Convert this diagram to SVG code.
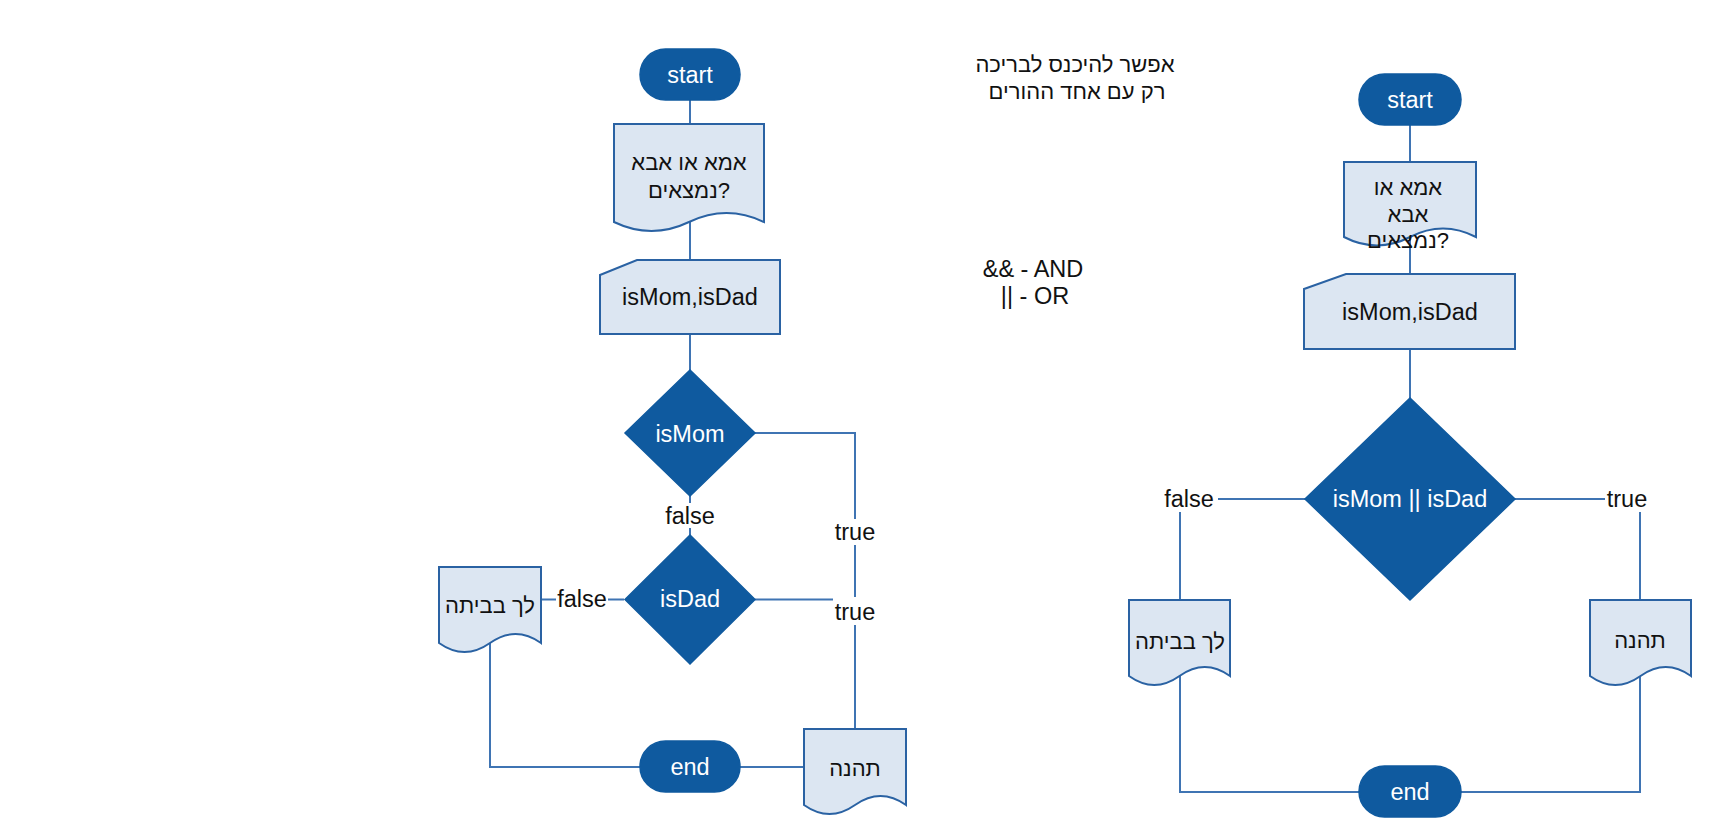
<svg xmlns="http://www.w3.org/2000/svg" width="1710" height="837" viewBox="0 0 1710 837">
<style>
.bg{fill:#ffffff}
.conn{fill:none;stroke:#3f74b3;stroke-width:2}
.dark{fill:#0f5a9f;stroke:#0f5a9f;stroke-width:1.5}
.light{fill:#dce6f2;stroke:#2a62a3;stroke-width:2}
text{font-family:"Liberation Sans",Arial,sans-serif;font-size:23.5px;text-anchor:middle;dominant-baseline:central}
.he{font-size:22px}
.w{fill:#ffffff}
.k{fill:#111111}
.lblbg{fill:#ffffff}
</style>
<rect class="bg" x="0" y="0" width="1710" height="837"/>

<g id="connectors">
  <path class="conn" d="M690,100 V124"/>
  <path class="conn" d="M690,222 V260"/>
  <path class="conn" d="M690,334 V370"/>
  <path class="conn" d="M690,496 V535"/>
  <path class="conn" d="M624,599.5 H541"/>
  <path class="conn" d="M755,433 H855 V729"/>
  <path class="conn" d="M755,599.5 H855 V729"/>
  <path class="conn" d="M490,643 V767 H640"/>
  <path class="conn" d="M804,767 H740"/>

  <path class="conn" d="M1410,125 V162"/>
  <path class="conn" d="M1410,237 V274"/>
  <path class="conn" d="M1410,349 V398"/>
  <path class="conn" d="M1305,499 H1180 V600"/>
  <path class="conn" d="M1515,499 H1640 V600"/>
  <path class="conn" d="M1180,676 V792 H1359"/>
  <path class="conn" d="M1640,676 V792 H1461"/>

  <g id="labels">
    <rect class="lblbg" x="666" y="503" width="48" height="25"/>
    <text class="k" x="690" y="516">false</text>
    <rect class="lblbg" x="556" y="587" width="52" height="25"/>
    <text class="k" x="582" y="599">false</text>
    <rect class="lblbg" x="833" y="519" width="44" height="26"/>
    <text class="k" x="855" y="532">true</text>
    <rect class="lblbg" x="833" y="597" width="44" height="28"/>
    <text class="k" x="855" y="612">true</text>
    <rect class="lblbg" x="1161" y="486" width="57" height="26"/>
    <text class="k" x="1189" y="499">false</text>
    <rect class="lblbg" x="1605" y="486" width="44" height="26"/>
    <text class="k" x="1627" y="499">true</text>
  </g>
</g>

<g id="note1">
  <text class="k he" x="1075" y="64">אפשר להיכנס לבריכה</text>
  <text class="k he" x="1077" y="91">רק עם אחד ההורים</text>
</g>
<g id="note2">
  <text class="k" x="1033" y="269">&amp;&amp; - AND</text>
  <text class="k" x="1035" y="296">|| - OR</text>
</g>

<g id="L-start">
  <rect class="dark" x="640" y="49" width="100" height="51" rx="25.5"/>
  <text class="w" x="690" y="75">start</text>
</g>
<g id="L-question">
  <path class="light" d="M614,124 H764 V222 Q726.5,204 689,222 Q651.5,240 614,222 Z"/>
  <text class="k he" x="689" y="162">אמא או אבא</text>
  <text class="k he" x="689" y="190">נמצאים?</text>
</g>
<g id="L-input">
  <path class="light" d="M600,275 L637,260 H780 V334 H600 Z"/>
  <text class="k" x="690" y="297">isMom,isDad</text>
</g>
<g id="L-isMom">
  <path class="dark" d="M690,370 L755,433 L690,496 L625,433 Z"/>
  <text class="w" x="690" y="434">isMom</text>
</g>
<g id="L-isDad">
  <path class="dark" d="M690,535 L755,599.5 L690,664 L625,599.5 Z"/>
  <text class="w" x="690" y="599">isDad</text>
</g>
<g id="L-home">
  <path class="light" d="M439,567 H541 V643 Q515.5,625 490,643 Q464.5,661 439,643 Z"/>
  <text class="k he" x="490" y="605">לך בביתה</text>
</g>
<g id="L-enjoy">
  <path class="light" d="M804,729 H906 V805 Q880.5,787 855,805 Q829.5,823 804,805 Z"/>
  <text class="k he" x="855" y="768">תהנה</text>
</g>
<g id="L-end">
  <rect class="dark" x="640" y="741" width="100" height="51" rx="25.5"/>
  <text class="w" x="690" y="767">end</text>
</g>

<g id="R-start">
  <rect class="dark" x="1359" y="74" width="102" height="51" rx="25.5"/>
  <text class="w" x="1410" y="100">start</text>
</g>
<g id="R-question">
  <path class="light" d="M1344,162 H1476 V237 Q1443,220 1410,237 Q1377,254 1344,237 Z"/>
  <text class="k he" x="1408" y="187">אמא או</text>
  <text class="k he" x="1408" y="214">אבא</text>
  <text class="k he" x="1408" y="240">נמצאים?</text>
</g>
<g id="R-input">
  <path class="light" d="M1304,289 L1346,274 H1515 V349 H1304 Z"/>
  <text class="k" x="1410" y="312">isMom,isDad</text>
</g>
<g id="R-cond">
  <path class="dark" d="M1410,398 L1515,499 L1410,600 L1305,499 Z"/>
  <text class="w" x="1410" y="499">isMom || isDad</text>
</g>
<g id="R-home">
  <path class="light" d="M1129,600 H1230 V676 Q1204.75,658 1179.5,676 Q1154.25,694 1129,676 Z"/>
  <text class="k he" x="1180" y="641">לך בביתה</text>
</g>
<g id="R-enjoy">
  <path class="light" d="M1590,600 H1691 V676 Q1665.75,658 1640.5,676 Q1615.25,694 1590,676 Z"/>
  <text class="k he" x="1640" y="640">תהנה</text>
</g>
<g id="R-end">
  <rect class="dark" x="1359" y="766" width="102" height="51" rx="25.5"/>
  <text class="w" x="1410" y="792">end</text>
</g>
</svg>
